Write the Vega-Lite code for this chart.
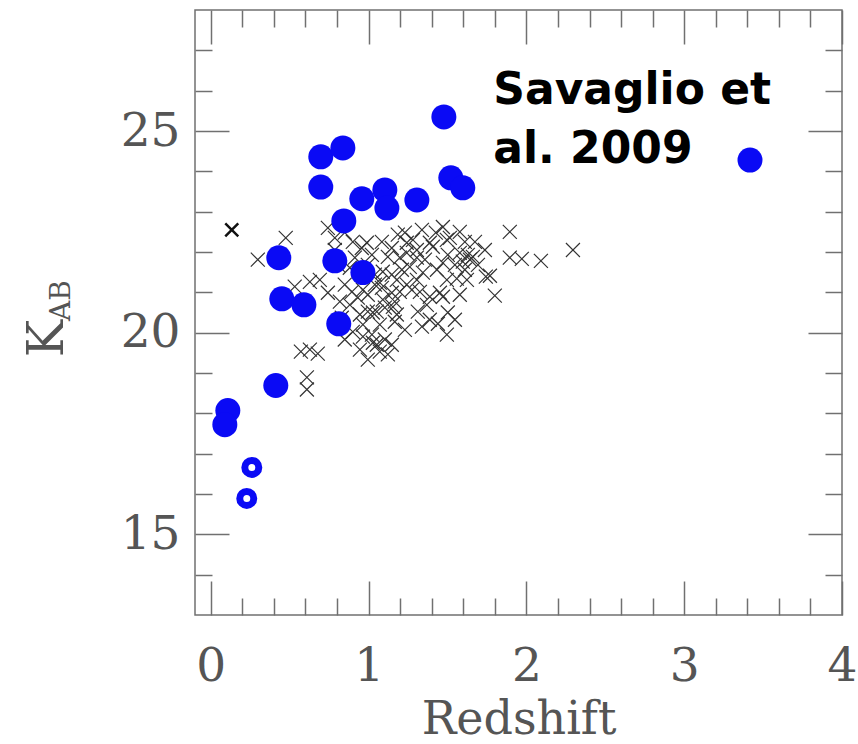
{
  "$schema": "https://vega.github.io/schema/vega-lite/v6.json",
  "width": 647,
  "height": 605,
  "autosize": {"type": "none"},
  "padding": {"left": 195, "top": 10, "right": 16, "bottom": 129},
  "background": "white",
  "config": {
    "view": {"stroke": "#707070", "strokeWidth": 1.5},
    "axis": {"domain": false, "grid": false, "tickColor": "#707070", "tickWidth": 1.5, "labelFont": "DejaVu Serif", "labelFontSize": 47, "labelColor": "#555555", "labelFlush": false, "labelOverlap": false, "titleFont": "DejaVu Serif", "titleFontWeight": "normal", "titleColor": "#555555"}
  },
  "datasets": {
    "crosses": [
      {"z": 0.475, "k": 22.35}, {"z": 0.298, "k": 21.81}, {"z": 0.532, "k": 21.14}, {"z": 0.628, "k": 21.26},
      {"z": 0.691, "k": 21.31}, {"z": 0.742, "k": 20.99}, {"z": 0.571, "k": 19.53}, {"z": 0.628, "k": 19.58},
      {"z": 0.678, "k": 19.48}, {"z": 0.609, "k": 18.89}, {"z": 0.609, "k": 18.59}, {"z": 0.742, "k": 22.6},
      {"z": 0.786, "k": 22.35}, {"z": 0.849, "k": 22.48}, {"z": 0.818, "k": 20.77}, {"z": 0.894, "k": 21.01},
      {"z": 0.849, "k": 21.19}, {"z": 0.849, "k": 19.83}, {"z": 0.9, "k": 20.02}, {"z": 0.964, "k": 20.2},
      {"z": 1.021, "k": 19.95}, {"z": 1.052, "k": 19.7}, {"z": 1.122, "k": 19.46}, {"z": 1.071, "k": 19.53},
      {"z": 0.945, "k": 20.45}, {"z": 0.995, "k": 20.52}, {"z": 1.052, "k": 20.52}, {"z": 1.103, "k": 20.62},
      {"z": 1.166, "k": 20.77}, {"z": 0.995, "k": 20.94}, {"z": 1.04, "k": 21.19}, {"z": 1.084, "k": 21.11},
      {"z": 1.147, "k": 20.99}, {"z": 1.021, "k": 21.93}, {"z": 1.084, "k": 22.25}, {"z": 1.147, "k": 22.1},
      {"z": 0.957, "k": 22.1}, {"z": 0.9, "k": 22.25}, {"z": 1.185, "k": 22.43}, {"z": 1.09, "k": 21.51},
      {"z": 1.147, "k": 21.44}, {"z": 1.04, "k": 21.44}, {"z": 0.932, "k": 20.87}, {"z": 0.964, "k": 19.9},
      {"z": 1.027, "k": 19.75}, {"z": 1.103, "k": 19.83}, {"z": 1.179, "k": 20.45}, {"z": 1.154, "k": 20.64},
      {"z": 1.23, "k": 22.48}, {"z": 1.338, "k": 22.55}, {"z": 1.471, "k": 22.62}, {"z": 1.578, "k": 22.5},
      {"z": 1.496, "k": 22.3}, {"z": 1.388, "k": 22.23}, {"z": 1.306, "k": 22.05}, {"z": 1.242, "k": 22.23},
      {"z": 0.989, "k": 22.23}, {"z": 1.122, "k": 21.88}, {"z": 1.261, "k": 21.63}, {"z": 1.306, "k": 21.31},
      {"z": 1.388, "k": 20.89}, {"z": 1.471, "k": 21.73}, {"z": 1.578, "k": 21.98}, {"z": 1.661, "k": 21.88},
      {"z": 1.61, "k": 21.56}, {"z": 1.179, "k": 21.31}, {"z": 1.071, "k": 21.24}, {"z": 0.964, "k": 21.06},
      {"z": 1.09, "k": 20.82}, {"z": 1.027, "k": 20.5}, {"z": 1.674, "k": 22.25}, {"z": 1.642, "k": 21.81},
      {"z": 1.597, "k": 21.76}, {"z": 1.502, "k": 20.5}, {"z": 1.439, "k": 20.22}, {"z": 1.496, "k": 19.95},
      {"z": 1.338, "k": 20.15}, {"z": 1.312, "k": 20.52}, {"z": 1.471, "k": 20.89}, {"z": 1.623, "k": 21.31},
      {"z": 1.559, "k": 21.34}, {"z": 1.496, "k": 21.31}, {"z": 1.743, "k": 21.39}, {"z": 1.769, "k": 21.41},
      {"z": 1.8, "k": 20.92}, {"z": 1.895, "k": 22.5}, {"z": 1.895, "k": 21.86}, {"z": 1.971, "k": 21.83},
      {"z": 2.092, "k": 21.78}, {"z": 2.295, "k": 22.05}, {"z": 1.515, "k": 22.35}, {"z": 1.407, "k": 22.13},
      {"z": 1.502, "k": 21.93}, {"z": 1.629, "k": 21.93}, {"z": 1.306, "k": 21.86}, {"z": 1.242, "k": 21.98},
      {"z": 1.344, "k": 21.49}, {"z": 1.242, "k": 21.19}, {"z": 1.325, "k": 21.01}, {"z": 1.369, "k": 20.69},
      {"z": 1.452, "k": 20.99}, {"z": 0.881, "k": 21.61},
      {"z": 0.805, "k": 21.68}, {"z": 0.913, "k": 21.86}, {"z": 1.198, "k": 21.86}, {"z": 1.211, "k": 21.56},
      {"z": 1.274, "k": 21.06}, {"z": 1.166, "k": 20.27}, {"z": 1.23, "k": 20.07}, {"z": 1.071, "k": 20.2},
      {"z": 0.945, "k": 19.58}, {"z": 0.995, "k": 19.33}, {"z": 1.147, "k": 19.7}, {"z": 1.547, "k": 20.32},
      {"z": 1.388, "k": 20.32}, {"z": 1.578, "k": 20.94}, {"z": 1.693, "k": 21.68}, {"z": 1.737, "k": 22.05},
      {"z": 1.547, "k": 21.68}, {"z": 1.433, "k": 21.56}, {"z": 1.357, "k": 21.81}, {"z": 0.881, "k": 20.69},
      {"z": 0.786, "k": 22.05}, {"z": 0.995, "k": 21.68}, {"z": 1.281, "k": 22.3}, {"z": 1.426, "k": 22.48},
      {"z": 1.61, "k": 22.25}, {"z": 1.198, "k": 21.01}, {"z": 0.83, "k": 20.37}
    ],
    "bold": [{"z": 0.133, "k": 22.55}],
    "filled": [
      {"z": 1.477, "k": 25.35}, {"z": 0.697, "k": 24.36}, {"z": 0.837, "k": 24.58}, {"z": 0.697, "k": 23.61},
      {"z": 0.957, "k": 23.32}, {"z": 1.103, "k": 23.54}, {"z": 1.116, "k": 23.09}, {"z": 1.306, "k": 23.29},
      {"z": 1.521, "k": 23.84}, {"z": 1.597, "k": 23.59}, {"z": 3.417, "k": 24.28}, {"z": 0.843, "k": 22.77},
      {"z": 0.431, "k": 21.86}, {"z": 0.786, "k": 21.78}, {"z": 0.964, "k": 21.49}, {"z": 0.45, "k": 20.84},
      {"z": 0.59, "k": 20.69}, {"z": 0.811, "k": 20.22}, {"z": 0.412, "k": 18.69}, {"z": 0.108, "k": 18.07},
      {"z": 0.089, "k": 17.72}
    ],
    "hollow": [{"z": 0.26, "k": 16.66}, {"z": 0.228, "k": 15.89}],
    "notes": [
      {"z": 1.79, "k": 25.67, "label": "Savaglio et"},
      {"z": 1.79, "k": 24.21, "label": "al. 2009"}
    ]
  },
  "resolve": {"axis": {"x": "independent", "y": "independent"}},
  "layer": [
    {
      "data": {"name": "crosses"},
      "mark": {"type": "point", "shape": "M-1,-1L1,1M-1,1L1,-1", "filled": false, "stroke": "#333333", "strokeWidth": 1.2, "size": 196, "opacity": 1},
      "encoding": {
        "x": {"field": "z", "type": "quantitative", "scale": {"domain": [-0.1, 4], "nice": false, "zero": false},
          "axis": {"orient": "bottom", "values": [0, 1, 2, 3, 4], "tickSize": -34, "labelPadding": 62, "title": "Redshift", "titleFontSize": 46, "titleY": 118, "titleBaseline": "alphabetic"}},
        "y": {"field": "k", "type": "quantitative", "scale": {"domain": [13, 28], "nice": false, "zero": false},
          "axis": {"orient": "left", "values": [15, 20, 25], "tickSize": -34, "labelPadding": 49, "title": "K", "titleFontSize": 50, "titleX": -133, "titleY": 328, "titleAngle": 270, "titleBaseline": "alphabetic", "titleAlign": "center"}}
      }
    },
    {
      "data": {"name": "bold"},
      "mark": {"type": "point", "shape": "M-1,-1L1,1M-1,1L1,-1", "filled": false, "stroke": "#111111", "strokeWidth": 2.5, "size": 169, "opacity": 1},
      "encoding": {
        "x": {"field": "z", "type": "quantitative", "scale": {"domain": [-0.1, 4], "nice": false, "zero": false},
          "axis": {"orient": "bottom", "values": [0.2, 0.4, 0.6, 0.8, 1.2, 1.4, 1.6, 1.8, 2.2, 2.4, 2.6, 2.8, 3.2, 3.4, 3.6, 3.8], "tickSize": -17, "labels": false, "title": null}},
        "y": {"field": "k", "type": "quantitative", "scale": {"domain": [13, 28], "nice": false, "zero": false},
          "axis": {"orient": "left", "values": [14, 16, 17, 18, 19, 21, 22, 23, 24, 26, 27], "tickSize": -17, "labels": false, "title": "AB", "titleFontSize": 28, "titleX": -126, "titleY": 290, "titleAngle": 270, "titleBaseline": "alphabetic", "titleAlign": "center"}}
      }
    },
    {
      "data": {"name": "filled"},
      "mark": {"type": "circle", "color": "#0a0af5", "size": 625, "opacity": 1},
      "encoding": {
        "x": {"field": "z", "type": "quantitative", "scale": {"domain": [-0.1, 4], "nice": false, "zero": false},
          "axis": {"orient": "top", "values": [0, 1, 2, 3, 4], "tickSize": -34, "labels": false, "title": null}},
        "y": {"field": "k", "type": "quantitative", "scale": {"domain": [13, 28], "nice": false, "zero": false},
          "axis": {"orient": "right", "values": [15, 20, 25], "tickSize": -34, "labels": false, "title": null}}
      }
    },
    {
      "data": {"name": "hollow"},
      "mark": {"type": "point", "shape": "circle", "filled": false, "stroke": "#0a0af5", "strokeWidth": 7, "size": 196, "opacity": 1},
      "encoding": {
        "x": {"field": "z", "type": "quantitative", "scale": {"domain": [-0.1, 4], "nice": false, "zero": false},
          "axis": {"orient": "top", "values": [0.2, 0.4, 0.6, 0.8, 1.2, 1.4, 1.6, 1.8, 2.2, 2.4, 2.6, 2.8, 3.2, 3.4, 3.6, 3.8], "tickSize": -17, "labels": false, "title": null}},
        "y": {"field": "k", "type": "quantitative", "scale": {"domain": [13, 28], "nice": false, "zero": false},
          "axis": {"orient": "right", "values": [14, 16, 17, 18, 19, 21, 22, 23, 24, 26, 27], "tickSize": -17, "labels": false, "title": null}}
      }
    },
    {
      "data": {"name": "notes"},
      "mark": {"type": "text", "align": "left", "baseline": "alphabetic", "font": "DejaVu Sans", "fontWeight": "bold", "fontSize": 44, "color": "black"},
      "encoding": {
        "x": {"field": "z", "type": "quantitative", "axis": null},
        "y": {"field": "k", "type": "quantitative", "axis": null},
        "text": {"field": "label"}
      }
    }
  ]
}
